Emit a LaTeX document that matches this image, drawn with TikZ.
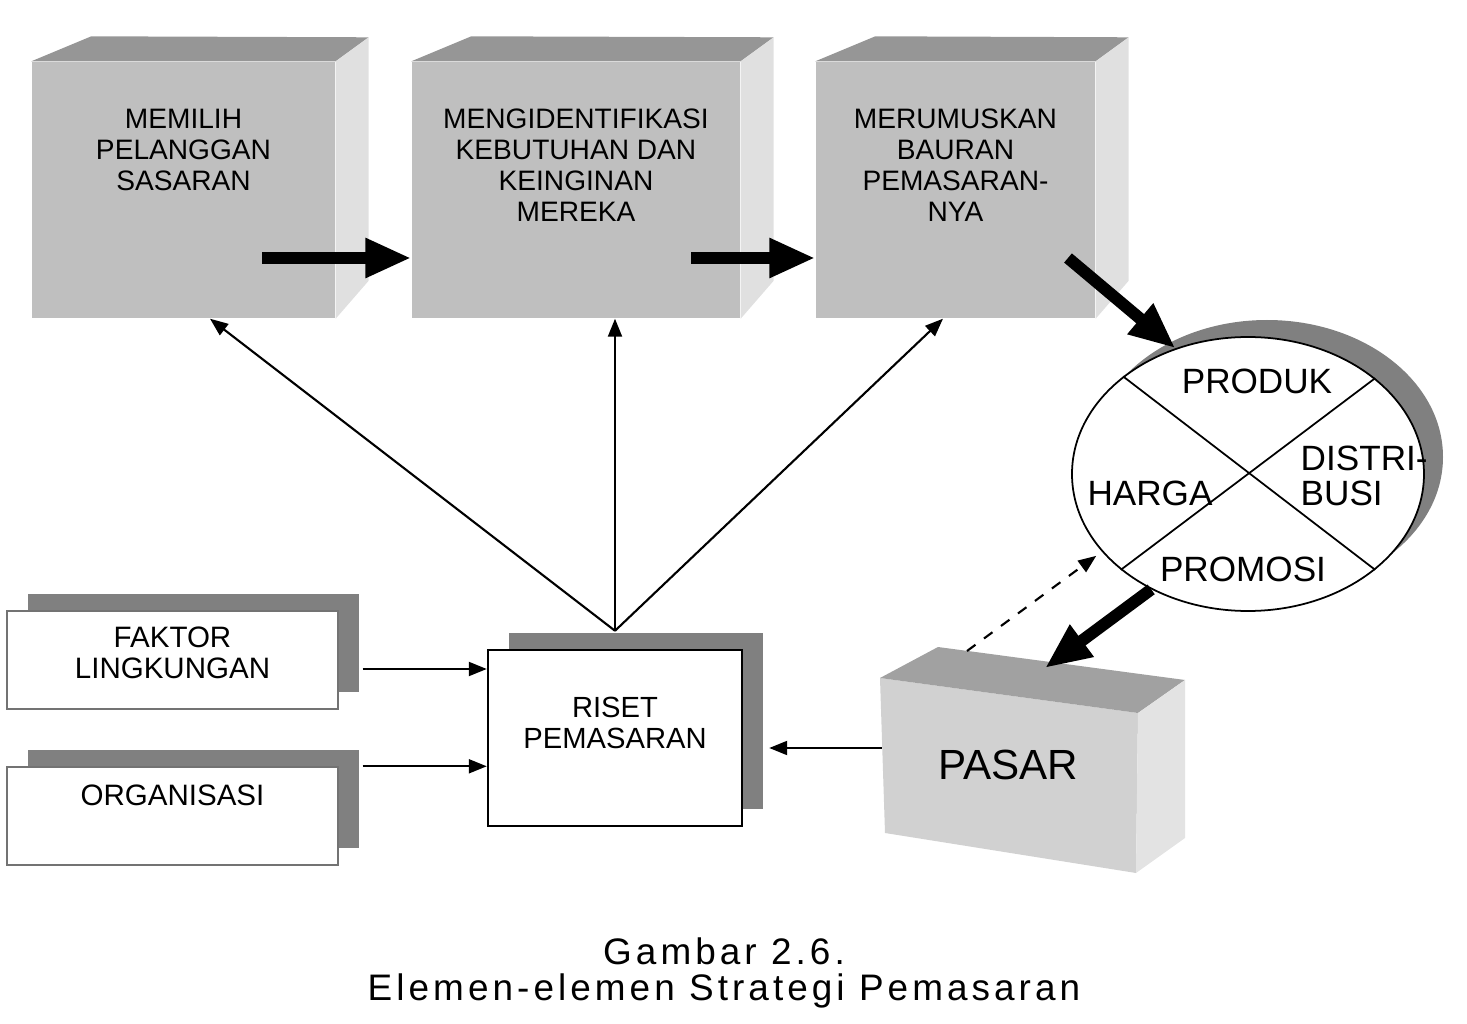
\documentclass[tikz,border=0pt]{standalone}
\usepackage{fontspec}
\setmainfont{Liberation Sans}
\usetikzlibrary{positioning, calc, arrows.meta, shapes.geometric, shadows}
\definecolor{cubefront}{gray}{0.75}
\definecolor{cubetop}{gray}{0.59}
\definecolor{cubeside}{gray}{0.88}
\definecolor{pasarfront}{gray}{0.82}
\definecolor{pasartop}{gray}{0.63}
\definecolor{pasarside}{gray}{0.89}
\definecolor{shadowgray}{gray}{0.5}
\tikzset{
    cubeface/.style = {fill=cubefront, inner sep=0pt, minimum height=2.56cm},
    boxtext/.style = {inner sep=0pt, align=center, font=\fontsize{8}{8.8}\selectfont},
    flatbox/.style = {fill=white, inner sep=0pt,
        drop shadow={shadow xshift=2.1mm, shadow yshift=1.7mm, fill=shadowgray, opacity=1}},
    mixtext/.style = {inner sep=0pt, font=\fontsize{10}{10}\selectfont},
    bigarrow/.style = {line width=1.2mm, -{Triangle[length=4.6mm, width=3.7mm]}},
    thinarrow/.style = {line width=0.6pt, -{Triangle[length=1.8mm, width=1.4mm]}},
    caption/.style = {inner sep=0pt, font=\fontsize{10.5}{11}\selectfont\addfontfeature{LetterSpace=11}},
}

\begin{document}
\begin{tikzpicture}[x=0.1mm, y=-0.1mm]
        \useasboundingbox (0,0) rectangle (1467,1024);
        % three cubes on top
        \node [cubeface, minimum width=3.03cm] (memilih) at (183.5,190) {};
        \node [cubeface, minimum width=3.28cm] (mengid) at (576,190) {};
        \node [cubeface, minimum width=2.79cm] (merumus) at (955.5,190) {};
        \foreach \b in {memilih, mengid, merumus} {
            \fill [cubetop] (\b.north west) -- ++(60,-25) -- ($(\b.north east)+(33,-24)$) -- (\b.north east) -- cycle;
            \fill [cubeside] (\b.north east) -- ++(33,-24) -- ($(\b.south east)+(33,-38)$) -- (\b.south east) -- cycle;
        }
        \node [boxtext, below=0.47cm of memilih.north] (memilih text) {MEMILIH\\PELANGGAN\\SASARAN};
        \node [boxtext, below=0.47cm of mengid.north] (mengid text) {MENGIDENTIFIKASI\\KEBUTUHAN DAN\\KEINGINAN\\MEREKA};
        \node [boxtext, below=0.47cm of merumus.north] (merumus text) {MERUMUSKAN\\BAURAN\\PEMASARAN-\\NYA};

        % marketing mix
        \node [ellipse, draw, fill=white, line width=0.5pt, inner sep=0pt,
            minimum width=3.52cm, minimum height=2.74cm,
            drop shadow={shadow xshift=1.9mm, shadow yshift=1.7mm, fill=shadowgray, opacity=1}] (bauran) at (1248,474) {};
        \draw [line width=0.5pt] (bauran.142.5) -- (bauran.-37.5);
        \draw [line width=0.5pt] (bauran.37.5) -- (bauran.217.5);
        \node [mixtext] (produk) at (1257,381) {PRODUK};
        \node [mixtext] (harga) at (1150,493) {HARGA};
        \node [mixtext, anchor=west, align=left] (distribusi) at (1300,476) {DISTRI-\\BUSI};
        \node [mixtext] (promosi) at (1243,569) {PROMOSI};

        % market box
        \coordinate (p1) at (880,678);
        \coordinate (p2) at (1138,713);
        \coordinate (p3) at (1136,873);
        \coordinate (p4) at (885,833);
        \coordinate (p5) at (938,647);
        \coordinate (p6) at (1185,680);
        \coordinate (p7) at (1185,838);
        \fill [pasarfront] (p1) -- (p2) -- (p3) -- (p4) -- cycle;
        \fill [pasartop] (p1) -- (p5) -- (p6) -- (p2) -- cycle;
        \fill [pasarside] (p2) -- (p6) -- (p7) -- (p3) -- cycle;
        \node [inner sep=0pt, font=\fontsize{12}{12}\selectfont] (pasar) at (1008,765) {PASAR};

        % research and its inputs
        \node [flatbox, draw=black, line width=0.7pt, minimum width=2.54cm, minimum height=1.76cm] (riset) at (615,738) {};
        \node [boxtext, font=\fontsize{8.3}{8.8}\selectfont, below=0.48cm of riset.north] (riset text) {RISET\\PEMASARAN};
        \node [flatbox, draw=black!55, line width=0.4pt, minimum width=3.31cm, minimum height=0.98cm] (faktor) at (172.5,660) {};
        \node [boxtext, font=\fontsize{8.4}{8.8}\selectfont, below=0.16cm of faktor.north] (faktor text) {FAKTOR\\LINGKUNGAN};
        \node [flatbox, draw=black!55, line width=0.4pt, minimum width=3.31cm, minimum height=0.98cm] (organisasi) at (172.5,816) {};
        \node [boxtext, font=\fontsize{8.4}{8.8}\selectfont, below=0.18cm of organisasi.north] (organisasi text) {ORGANISASI};

        % thick arrows
        \coordinate (a1) at (262,258);
        \coordinate (a2) at (691,258);
        \coordinate (a3) at (1068,258);
        \coordinate (pasar top) at (1045,668);
        \draw [bigarrow] (a1) -- (a1 -| mengid.west);
        \draw [bigarrow] (a2) -- (a2 -| merumus.west);
        \draw [bigarrow] (a3) -- (bauran.120);
        \draw [bigarrow] (bauran.230) -- (pasar top);

        % thin arrows
        \coordinate (rtop) at ([yshift=1.8mm]riset.north);
        \draw [thinarrow] (rtop) -- ([xshift=2.65mm]memilih.south);
        \draw [thinarrow] (rtop) -- (rtop |- mengid.south);
        \draw [thinarrow] (rtop) -- ([xshift=-1.25mm]merumus.south);
        \draw [thinarrow] ([xshift=2.4mm, yshift=-0.9mm]faktor.east) coordinate (f1) -- (f1 -| riset.west);
        \draw [thinarrow] ([xshift=2.4mm]organisasi.north east) coordinate (o1) -- (o1 -| riset.west);
        \coordinate (pw) at (882,748);
        \coordinate (rs) at ([xshift=2.6mm]riset.east);
        \draw [thinarrow] (pw) -- (pw -| rs);
        \coordinate (d1) at (967,651);
        \draw [thinarrow, dashed, shorten >=0.7mm] (d1) -- (bauran.208);

        % caption
        \node [caption] (gambar) at (724,951) {Gambar 2.6.};
        \node [caption] (judul) at (724,991) {Elemen-elemen Strategi Pemasaran};
\end{tikzpicture}
\end{document}
